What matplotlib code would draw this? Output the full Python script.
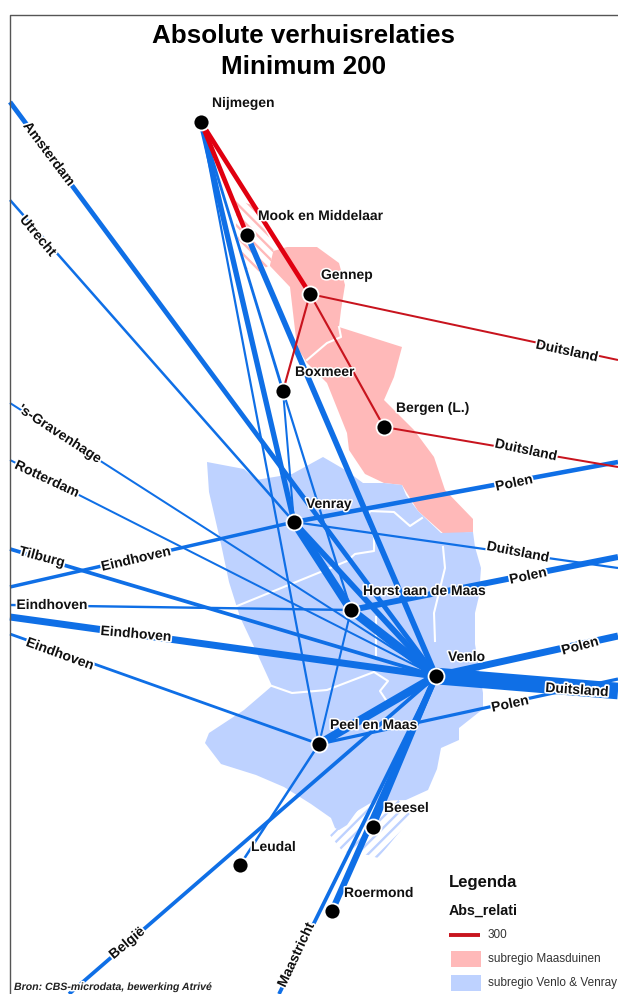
import matplotlib
matplotlib.use("Agg")
import matplotlib.pyplot as plt
import matplotlib.patheffects as pe
from matplotlib.patches import Polygon, Rectangle

plt.rcParams['font.family'] = ['Liberation Sans', 'DejaVu Sans']
plt.rcParams['hatch.linewidth'] = 1.7

# ---- places (map coordinates) ----
place_names = ["Nijmegen", "Mook en Middelaar", "Gennep", "Boxmeer", "Bergen (L.)", "Venray",
               "Horst aan de Maas", "Venlo", "Peel en Maas", "Beesel", "Leudal", "Roermond"]
place_x = [201, 247, 310, 283, 384, 294, 351, 436, 319, 373, 240, 332]
place_y = [122, 235, 294, 391, 427, 522, 610, 676, 744, 827, 865, 911]

# outside destinations, at the map edge
edge_names = ["Amsterdam", "Utrecht", "Gravenhage", "Rotterdam", "Tilburg", "EindhovenA", "EindhovenB",
              "EindhovenC", "EindhovenD", "DuitslandA", "DuitslandB", "DuitslandC", "DuitslandD",
              "PolenA", "PolenB", "PolenC", "PolenD", "Belgie", "Maastricht"]
edge_x = [10, 10, 10, 10, 10, 10, 10, 10, 10, 618, 618, 618, 618, 618, 618, 618, 618, 69, 279]
edge_y = [102, 200, 403, 460, 549, 587, 605, 617, 634, 360, 467, 568, 691, 462, 557, 636, 679, 994, 994]

# ---- flows: number of movers (estimated from line width) ----
blue_from = ["Amsterdam", "Utrecht", "Gravenhage", "Rotterdam", "Tilburg", "EindhovenA", "EindhovenB",
             "EindhovenC", "EindhovenD", "Nijmegen", "Nijmegen", "Nijmegen", "Mook en Middelaar",
             "Boxmeer", "Boxmeer", "Venray", "Venray", "Horst aan de Maas", "Peel en Maas", "Venlo",
             "Peel en Maas", "Venlo", "Venlo", "Venlo", "Venlo", "Venray", "Venray", "Horst aan de Maas",
             "Venlo", "Venlo", "Peel en Maas"]
blue_to = ["Venlo", "Venray", "Venlo", "Venlo", "Venlo", "Venray", "Horst aan de Maas",
           "Venlo", "Peel en Maas", "Peel en Maas", "Venray", "Boxmeer", "Venlo",
           "Venray", "Horst aan de Maas", "Horst aan de Maas", "Venlo", "Venlo", "Horst aan de Maas",
           "Peel en Maas", "Leudal", "Belgie", "Maastricht", "Roermond", "Beesel", "PolenA", "DuitslandC",
           "PolenB", "PolenC", "DuitslandD", "PolenD"]
blue_val = [720, 380, 300, 300, 560, 520, 360, 1050, 420, 330, 800, 420, 850,
            300, 330, 1250, 850, 1300, 310, 1250, 380, 560, 560, 950, 800, 680, 330,
            900, 1050, 2500, 480]

red_from = ["Nijmegen", "Nijmegen", "Gennep", "Gennep", "Gennep", "Bergen (L.)"]
red_to = ["Mook en Middelaar", "Gennep", "Boxmeer", "Bergen (L.)", "DuitslandA", "DuitslandB"]
red_val = [700, 700, 320, 320, 300, 300]

# ---- regions ----
blue_x = [207, 244, 256, 292, 323, 347, 363, 384, 402, 406, 418, 441, 473, 475, 481, 479, 475, 475, 483, 483, 459, 459,
          441, 437, 428, 406, 374, 357, 347, 339, 335, 331, 311, 284, 256, 221, 205, 209, 244, 272, 256, 240, 229, 221, 209]
blue_y = [462, 469, 480, 474, 457, 471, 483, 483, 485, 495, 511, 533, 532, 547, 568, 596, 613, 644, 693, 709, 728, 740,
          748, 769, 790, 800, 801, 811, 825, 830, 828, 818, 804, 787, 775, 764, 743, 733, 710, 686, 651, 617, 582, 544, 492]

pink_x = [270, 287, 317, 339, 345, 341, 339, 402, 394, 384, 414, 434, 445, 473, 473, 445, 418, 402, 384, 365, 349, 347, 327, 307, 297, 290, 270]
pink_y = [252, 247, 247, 263, 285, 310, 327, 347, 377, 400, 430, 457, 490, 519, 532, 535, 511, 485, 483, 474, 450, 433, 383, 363, 347, 287, 266]

mook_x = [236, 252, 268, 274, 270, 258, 246, 240, 236]
mook_y = [200, 205, 235, 248, 265, 272, 268, 250, 225]
beesel_x = [330, 363, 393, 412, 378, 368, 343]
beesel_y = [835, 803, 793, 817, 858, 855, 852]

border_lines = [
    ([237, 323, 347, 355, 374, 374, 367, 370, 394, 410, 422], [606, 571, 561, 554, 551, 537, 519, 511, 512, 526, 518]),
    ([272, 292, 327, 374, 388, 380, 386], [686, 693, 690, 672, 681, 691, 700]),
    ([443, 445, 434, 435], [547, 568, 613, 641]),
    ([376, 376], [617, 658]),
    ([307, 327, 341, 339], [360, 343, 337, 327]),
]

# ---- labels ----
city_label_x = [212, 258, 321, 295, 396, 306, 363, 448, 330, 384, 251, 344]
city_label_y = [103, 216, 275, 372, 408, 504, 591, 657, 725, 808, 847, 893]

flow_labels = ["Amsterdam", "Utrecht", "'s-Gravenhage", "Rotterdam", "Tilburg", "Eindhoven", "Eindhoven",
               "Eindhoven", "Eindhoven", "Duitsland", "Duitsland", "Duitsland", "Duitsland",
               "Polen", "Polen", "Polen", "Polen", "België", "Maastricht"]
flow_label_x = [49, 38, 60, 47, 42, 136, 52, 136, 60, 567, 526, 518, 577, 514, 528, 580, 510, 127, 296]
flow_label_y = [154, 236, 434, 479, 557, 559, 605, 634, 654, 351, 450, 552, 690, 483, 576, 646, 704, 943, 955]
flow_label_rot = [-53, -50, -33, -25, -15, 13, 0, -5, -20, -12, -12, -11, -4, 12, 12, 15, 12, 40, 65]

title_lines = ["Absolute verhuisrelaties", "Minimum 200"]
legend_items = ["300", "subregio Maasduinen", "subregio Venlo & Venray"]
source_text = "Bron: CBS-microdata, bewerking Atrivé"

BLUE = "#0f6fe6"
PINK = "#ffb9b9"
LBLUE = "#bed2ff"
RED = "#e00010"
DRED = "#c8141e"

fig = plt.figure(figsize=(6.18, 9.94), dpi=100)
ax = fig.add_axes([0, 0, 1, 1])
ax.set_xlim(0, 618)
ax.set_ylim(994, 0)
ax.axis("off")

xy = dict(zip(place_names + edge_names, zip(place_x + edge_x, place_y + edge_y)))
PX = 72 / 100


def width(v):
    return v / 150 * PX


halo = [pe.withStroke(linewidth=2.2, foreground="white")]

ax.add_patch(Polygon(list(zip(beesel_x, beesel_y)), fc="white", ec=LBLUE, lw=0, hatch="///", zorder=1))
ax.add_patch(Polygon(list(zip(blue_x, blue_y)), fc=LBLUE, ec="none", zorder=1.1))
ax.add_patch(Polygon(list(zip(pink_x, pink_y)), fc=PINK, ec="none", zorder=1))
ax.add_patch(Polygon(list(zip(mook_x, mook_y)), fc="white", ec=PINK, lw=0, hatch="\\\\\\", zorder=1))
for bx, by in border_lines:
    ax.plot(bx, by, color="white", lw=1.5, zorder=2)

for a, b, v in zip(blue_from, blue_to, blue_val):
    ax.plot([xy[a][0], xy[b][0]], [xy[a][1], xy[b][1]], color=BLUE, lw=width(v),
            solid_capstyle="butt", zorder=3)
for a, b, v in zip(red_from, red_to, red_val):
    ax.plot([xy[a][0], xy[b][0]], [xy[a][1], xy[b][1]], color=RED if v > 400 else DRED, lw=width(v),
            solid_capstyle="butt", zorder=4)

for t, x, y, r in zip(flow_labels, flow_label_x, flow_label_y, flow_label_rot):
    ax.text(x, y, t, fontsize=10, fontweight="bold", color="#111111", ha="center", va="center",
            rotation=r, rotation_mode="anchor", zorder=6,
            path_effects=[pe.withStroke(linewidth=2.5, foreground="white")])

ax.plot(place_x, place_y, "o", ms=11.5, mfc="black", mec="white", mew=1.3, ls="none", zorder=7)
for t, x, y in zip(place_names, city_label_x, city_label_y):
    ax.text(x, y, t, fontsize=10, fontweight="bold", color="#111111", ha="left", va="center", zorder=6,
            path_effects=halo)

ax.text(304, 36, title_lines[0], fontsize=18.7, fontweight="bold", color="black", ha="center", va="center", zorder=8)
ax.text(304, 67, title_lines[1], fontsize=18.7, fontweight="bold", color="black", ha="center", va="center", zorder=8)

# frame
ax.plot([9.5, 9.5, 618], [994, 14.5, 14.5], color="#555555", lw=1.0, zorder=9)

# legend
ax.text(449, 882, "Legenda", fontsize=12, fontweight="bold", color="#111111", va="center", zorder=8)
ax.text(449, 911, "Abs_relati", fontsize=10.3, fontweight="bold", color="#111111", va="center", zorder=8)
ax.plot([449, 480], [935, 935], color=DRED, lw=2.8, solid_capstyle="butt", zorder=8)
ax.add_patch(Rectangle((451, 951), 30, 16, fc=PINK, ec="none", zorder=8))
ax.add_patch(Rectangle((451, 975), 30, 16, fc=LBLUE, ec="none", zorder=8))
for t, y in zip(legend_items, [935, 959, 983]):
    ax.text(488, y, t, fontsize=8.5, color="#333333", va="center", zorder=8)

ax.text(14, 987, source_text, fontsize=7.6, fontweight="bold", style="italic", color="#222222",
        va="center", zorder=8, path_effects=halo)

fig.savefig("out.png", dpi=100)
